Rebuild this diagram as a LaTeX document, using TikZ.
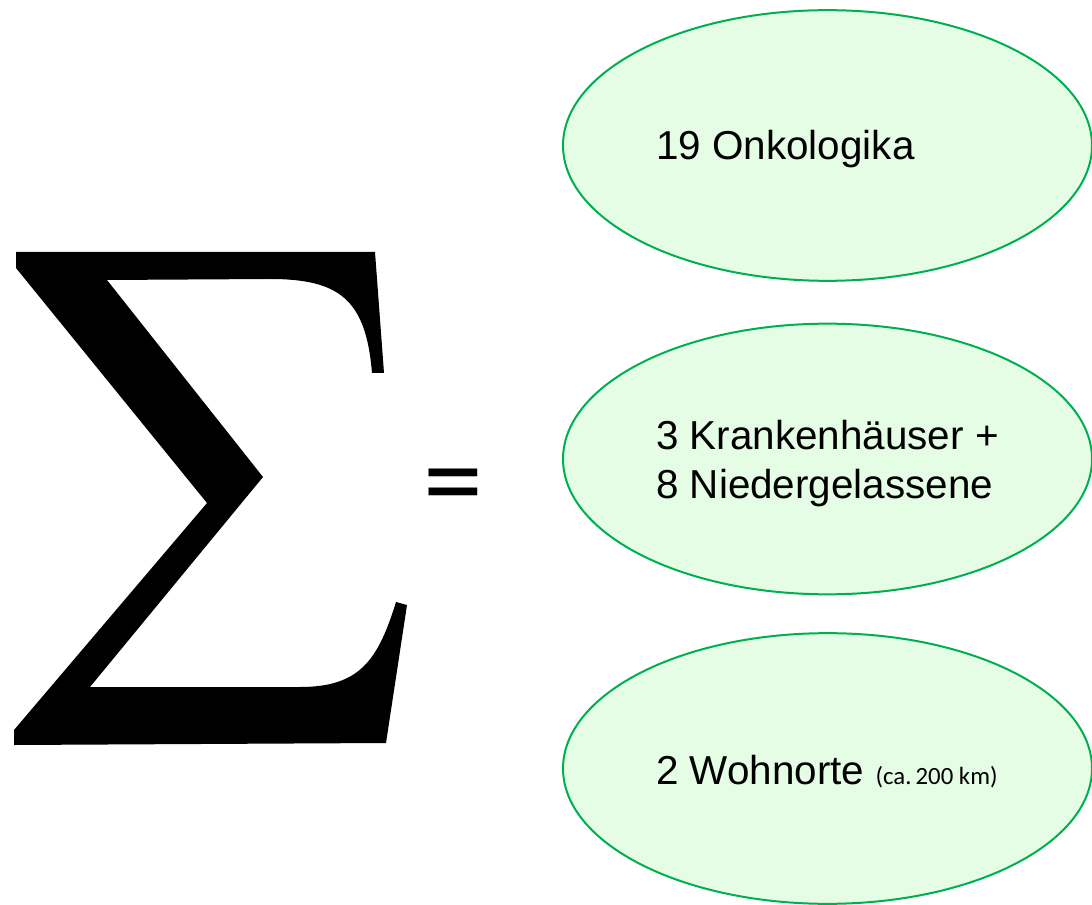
\documentclass[tikz,border=0pt]{standalone}
\usepackage{fontspec}
\setmainfont{Liberation Sans}
\newfontfamily\smallsans{Carlito}
\usetikzlibrary{shapes.geometric}
\definecolor{ovalfill}{HTML}{E5FCE5}
\definecolor{ovaldraw}{HTML}{00B050}
\tikzset{
  oval/.style={ellipse, draw=ovaldraw, fill=ovalfill, line width=1.5pt,
    minimum width=396.75pt, minimum height=203pt, inner sep=0pt},
  label text/.style={anchor=base west, inner sep=0pt, align=left,
    font=\fontsize{30.3}{36}\selectfont}
}
\begin{document}
\begin{tikzpicture}[x=0.75pt,y=-0.75pt]
\useasboundingbox (0,0) rectangle (1092,905);
\clip (0,0) rectangle (1092,905);
\fill[white] (0,0) rectangle (1092,905);

% summation sign
\fill[black] (16,252) -- (375,252) -- (384,373) -- (372,373)
  .. controls (366,300) and (340,279) .. (270,279) -- (107,280)
  -- (263,477) -- (90,687) -- (300,687)
  .. controls (360,687) and (378,660) .. (396,602)
  -- (407,605) -- (386,743) -- (14,745) -- (14,730)
  -- (207,503) -- (16,268) -- cycle;

% equals sign
\node[anchor=base, inner sep=0pt, font=\smallsans\fontsize{90}{90}\selectfont] (eq) at (453,520) {=};

% ovals
\node[oval] (e1) at (827.5,145.5) {};
\node[oval] (e2) at (827.5,459) {};
\node[oval] (e3) at (827.5,768.5) {};

\node[label text] (t1) at (656,160) {19 Onkologika};
\node[label text] (t2) at (656,498) {3 Krankenhäuser +\\8 Niedergelassene};
\node[label text] (t3) at (656,784) {2 Wohnorte {\smallsans\fontsize{18.6}{19}\selectfont (ca.\,200 km)}};
\end{tikzpicture}
\end{document}
